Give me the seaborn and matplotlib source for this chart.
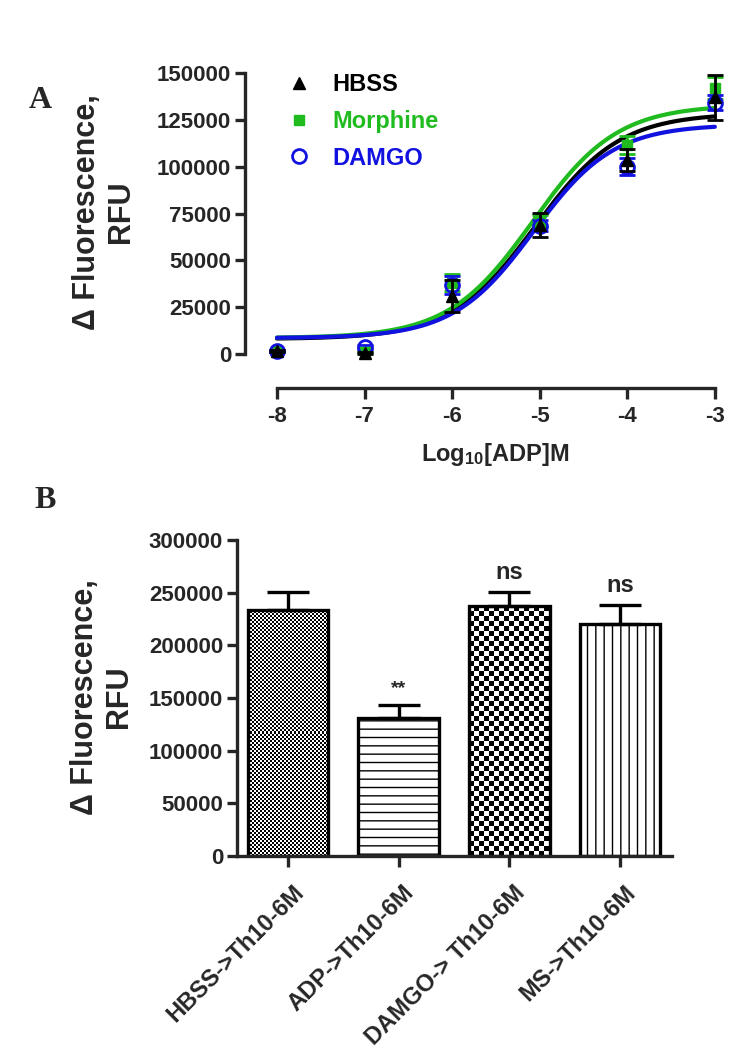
import numpy as np
import pandas as pd
import matplotlib
matplotlib.use('Agg')
import matplotlib.pyplot as plt
from matplotlib.lines import Line2D
from matplotlib.transforms import ScaledTranslation
import seaborn as sns

# panel A: dose-response, mean and SEM per log10[ADP]
log_adp = [-8, -7, -6, -5, -4, -3]
hbss_mean = [1600, 500, 31000, 69000, 103600, 137000]
hbss_sem = [600, 400, 8500, 6500, 6000, 12000]
morph_mean = [1800, 1000, 38000, 71000, 111600, 142000]
morph_sem = [600, 500, 4500, 3000, 5000, 6000]
damgo_mean = [1600, 3700, 36800, 68500, 100000, 134000]
damgo_sem = [600, 1000, 5000, 3000, 4500, 4000]

# fitted sigmoid parameters: bottom, top, logEC50, hill slope
hbss_fit = [8000, 128500, -5.05, 0.9]
morph_fit = [8500, 133000, -5.08, 0.9]
damgo_fit = [8500, 122500, -5.07, 0.95]

# panel B: bar chart
groups = ['HBSS->Th10-6M', 'ADP->Th10-6M', 'DAMGO-> Th10-6M', 'MS->Th10-6M']
bar_mean = [234000, 131000, 237000, 220000]
bar_sem = [16500, 12000, 13500, 18000]
stars = ['', '**', 'ns', 'ns']

BLACK, GREEN, BLUE = 'black', '#1fbb1f', '#1212e0'


def sigmoid(x, p):
    bottom, top, ec50, hill = p
    return bottom + (top - bottom) / (1 + 10 ** ((ec50 - x) * hill))


def pattern_fill(ax, patch, cell):
    # checkerboard drawn pixel-aligned inside a bar
    x0, y0 = patch.get_xy()
    x1, y1 = x0 + patch.get_width(), y0 + patch.get_height()
    p0, p1 = ax.transData.transform([[x0, y0], [x1, y1]])
    w, h = int(round(abs(p1[0] - p0[0]))), int(round(abs(p1[1] - p0[1])))
    yy, xx = np.mgrid[0:h, 0:w]
    img = ((xx // cell + yy // cell) % 2).astype(float)
    ax.imshow(img, cmap='gray', vmin=0, vmax=1, extent=(x0, x1, y0, y1), origin='lower',
              interpolation='nearest', aspect='auto', zorder=0.5)


if __name__ == '__main__':
    sns.set_style('ticks')
    plt.rcParams['font.family'] = ['Liberation Sans', 'DejaVu Sans']
    plt.rcParams['font.weight'] = 'bold'
    plt.rcParams['axes.labelweight'] = 'bold'
    plt.rcParams['mathtext.fontset'] = 'custom'
    plt.rcParams['mathtext.rm'] = 'Liberation Sans:bold'
    plt.rcParams['mathtext.default'] = 'rm'
    plt.rcParams['hatch.linewidth'] = 1.0

    fig = plt.figure(figsize=(7.5, 10.62), dpi=100)

    # ---------- panel A ----------
    ax = fig.add_axes([245 / 750, (1062 - 354) / 1062, 490 / 750, 281 / 1062])
    xfit = np.linspace(-8, -3, 300)
    for p, c in [(hbss_fit, BLACK), (morph_fit, GREEN), (damgo_fit, BLUE)]:
        sns.lineplot(x=xfit, y=sigmoid(xfit, p), color=c, lw=3, ax=ax)
    ax.errorbar(log_adp, hbss_mean, yerr=hbss_sem, fmt='^', color=BLACK, ms=8,
                capsize=6, elinewidth=2, capthick=2, clip_on=False, zorder=5)
    ax.errorbar(log_adp, morph_mean, yerr=morph_sem, fmt='s', color=GREEN, ms=7,
                capsize=6, elinewidth=2, capthick=2, clip_on=False, zorder=4)
    ax.errorbar(log_adp, damgo_mean, yerr=damgo_sem, fmt='o', color=BLUE, mfc='none', mew=2, ms=10,
                capsize=6, elinewidth=2, capthick=2, clip_on=False, zorder=4)

    ax.set_xlim(-8.365, -2.77)
    ax.set_ylim(0, 150000)
    ax.set_yticks(np.arange(0, 150001, 25000))
    ax.set_xticks(log_adp)
    ax.set_xticklabels([str(v) for v in log_adp])
    ax.spines[['top', 'right']].set_visible(False)
    ax.spines['bottom'].set_position(('outward', 24.5))
    ax.spines['bottom'].set_bounds(-8, -3)
    for s in ['left', 'bottom']:
        ax.spines[s].set_linewidth(2.4)
    ax.tick_params(axis='both', width=2.4, length=7, labelsize=16, pad=3)
    ax.tick_params(axis='x', length=8, pad=5)
    ax.set_xlabel(r'Log$_{10}$[ADP]M', fontsize=17)
    ax.xaxis.set_label_coords(0.51, -0.31)

    handles = [Line2D([], [], ls='none', marker='^', color=BLACK, ms=8),
               Line2D([], [], ls='none', marker='s', color=GREEN, ms=7),
               Line2D([], [], ls='none', marker='o', color=BLUE, mfc='none', mew=2, ms=10)]
    ax.legend(handles, ['HBSS', 'Morphine', 'DAMGO'], labelcolor=[BLACK, GREEN, BLUE],
              loc='upper left', bbox_to_anchor=(0.086, 0.999), frameon=False, borderaxespad=0,
              borderpad=0, handlelength=1.0, handletextpad=0.9, labelspacing=0.58,
              prop={'size': 17, 'weight': 'bold'})

    fig.text(104 / 750, 1 - 212 / 1062, 'Δ Fluorescence,\nRFU', rotation=90, ha='center', va='center',
             fontsize=22, fontweight='bold', multialignment='center')

    # ---------- panel B ----------
    bx = fig.add_axes([237 / 750, (1062 - 856) / 1062, 435 / 750, 316 / 1062])
    df = pd.DataFrame({'group': groups, 'value': bar_mean})
    sns.barplot(data=df, x='group', y='value', width=0.73, errorbar=None, color='white',
                edgecolor='black', linewidth=2.4, ax=bx)
    bx.set_xlim(-0.46, 3.47)
    bx.set_ylim(0, 300000)
    bars = list(bx.patches)
    centers = [b.get_x() + b.get_width() / 2 for b in bars]
    for b in bars:
        b.set_facecolor('none')
        b.set_zorder(2)
    pattern_fill(bx, bars[0], 2)
    bars[1].set_hatch('--')
    pattern_fill(bx, bars[2], 5)
    bars[3].set_hatch('||')
    bx.errorbar(centers, bar_mean, yerr=[np.zeros(len(bar_sem)), bar_sem], fmt='none', ecolor='black',
                elinewidth=2.4, capsize=15, capthick=2.4, zorder=1)
    for cx, m, s, t in zip(centers, bar_mean, bar_sem, stars):
        if t:
            bx.annotate(t, (cx, m + s), xytext=(0, 6), textcoords='offset points', ha='center',
                        va='bottom', fontsize=17 if t == 'ns' else 14, fontweight='bold')

    bx.set_yticks(np.arange(0, 300001, 50000))
    bx.set_xlabel('')
    bx.set_ylabel('')
    bx.spines[['top', 'right']].set_visible(False)
    for s in ['left', 'bottom']:
        bx.spines[s].set_linewidth(2.4)
    bx.tick_params(axis='both', width=2.4, length=7, labelsize=16, pad=3)
    bx.tick_params(axis='x', length=8, pad=10)
    bx.set_xticks(range(len(groups)))
    bx.set_xticklabels(groups, rotation=45, ha='right', va='top', rotation_mode='anchor', fontsize=17)
    for lbl in bx.get_xticklabels():
        lbl.set_transform(lbl.get_transform() + ScaledTranslation(4 / 100, 0, fig.dpi_scale_trans))

    fig.text(102 / 750, 1 - 697 / 1062, 'Δ Fluorescence,\nRFU', rotation=90, ha='center', va='center',
             fontsize=22, fontweight='bold', multialignment='center')

    fig.text(40 / 750, 1 - 100 / 1062, 'A', fontsize=23, fontweight='bold', family='Liberation Serif',
             ha='center', va='center')
    fig.text(45 / 750, 1 - 500 / 1062, 'B', fontsize=23, fontweight='bold', family='Liberation Serif',
             ha='center', va='center')

    fig.savefig('out.png', dpi=100, facecolor='white')
